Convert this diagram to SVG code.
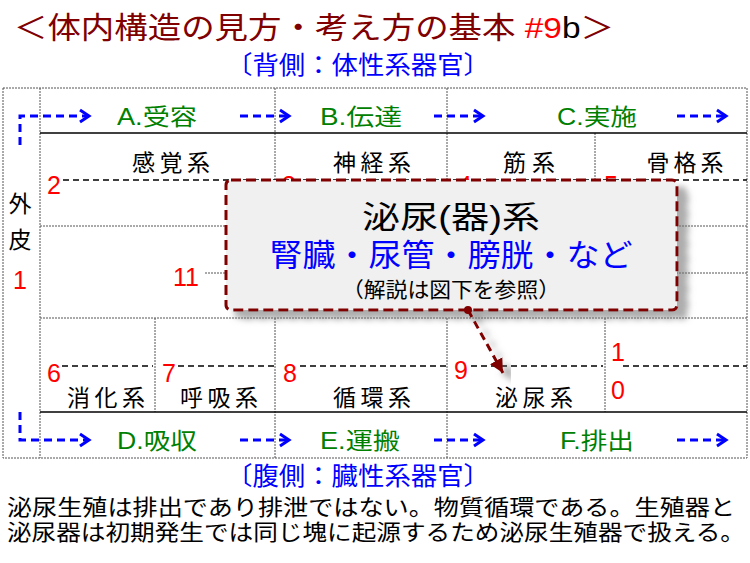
<svg xmlns="http://www.w3.org/2000/svg" width="750" height="563" viewBox="0 0 750 563">
<style>
text{font-family:"Liberation Sans","Noto Sans CJK JP",sans-serif;dominant-baseline:central}
.grid{stroke:#555;stroke-width:1;stroke-dasharray:2,1;fill:none}
.solid{stroke:#000;stroke-width:1.5;fill:none}
.dash{stroke:#000;stroke-width:1.3;stroke-dasharray:6,4;fill:none}
.flow{stroke:#0000ff;stroke-width:3;stroke-dasharray:8,5;fill:none}
.lab{font-size:23px;fill:#008000;text-anchor:middle}
.sys{font-size:23px;fill:#000;text-anchor:middle}
.num{font-size:25px;fill:#ff0000}
.side{font-size:25px;fill:#0000ff;text-anchor:middle}
.body{font-size:22px;fill:#000}
</style>
<defs>
<marker id="chev" markerUnits="userSpaceOnUse" markerWidth="14" markerHeight="16" refX="11" refY="8" orient="auto">
<polyline points="2,2 11,8 2,14" fill="none" stroke="#0000ff" stroke-width="3"/>
</marker>
<marker id="tri" markerUnits="userSpaceOnUse" markerWidth="16" markerHeight="16" refX="14" refY="8" orient="auto">
<path d="M0,1 L14,8 L0,15 Z" fill="#800000"/>
</marker>
<filter id="shadow" x="-10%" y="-10%" width="130%" height="140%">
<feDropShadow dx="10" dy="8" stdDeviation="3" flood-color="#777" flood-opacity="0.6"/>
</filter>
<clipPath id="peek"><rect x="0" y="0" width="750" height="180"/></clipPath>
</defs>
<rect width="750" height="563" fill="#fff"/>

<g id="title">
<text x="314" y="27" font-size="30" fill="#800000" text-anchor="middle" textLength="600" lengthAdjust="spacingAndGlyphs">＜体内構造の見方・考え方の基本 <tspan fill="#ff0000">#9</tspan><tspan fill="#000">b</tspan>＞</text>
</g>
<g id="dorsal">
<text class="side" x="358" y="65" textLength="264" lengthAdjust="spacingAndGlyphs">〔背側：体性系器官〕</text>
</g>

<g id="grid">
<rect class="grid" x="3" y="88" width="744" height="370"/>
<line class="grid" x1="40" y1="88" x2="40" y2="458"/>
<line class="grid" x1="275" y1="88" x2="275" y2="180"/>
<line class="grid" x1="447" y1="88" x2="447" y2="180"/>
<line class="grid" x1="595" y1="133" x2="595" y2="180"/>
<line class="grid" x1="275" y1="318" x2="275" y2="458"/>
<line class="grid" x1="447" y1="318" x2="447" y2="458"/>
<line class="grid" x1="155" y1="318" x2="155" y2="412"/>
<line class="grid" x1="605" y1="318" x2="605" y2="412"/>
<line class="grid" x1="40" y1="226" x2="747" y2="226"/>
<line class="grid" x1="205" y1="273" x2="747" y2="273"/>
<line class="grid" x1="40" y1="318" x2="747" y2="318"/>
<line class="solid" x1="40" y1="133" x2="747" y2="133"/>
<line class="solid" x1="40" y1="412" x2="747" y2="412"/>
<line class="dash" x1="63" y1="180" x2="747" y2="180"/>
<line class="dash" x1="62" y1="366" x2="153" y2="366"/>
<line class="dash" x1="178" y1="366" x2="274" y2="366"/>
<line class="dash" x1="300" y1="366" x2="450" y2="366"/>
<line class="dash" x1="471" y1="366" x2="603" y2="366"/>
<line class="dash" x1="623" y1="366" x2="747" y2="366"/>
</g>

<g id="skin">
<text class="sys" x="20" y="204">外</text>
<text class="sys" x="20" y="240">皮</text>
<text class="num" x="20" y="280" text-anchor="middle">1</text>
</g>

<g id="numbers">
<text class="num" x="47" y="185">2</text>
<g clip-path="url(#peek)">
<text class="num" x="282" y="185">3</text>
<text class="num" x="458" y="185">4</text>
<text class="num" x="604" y="185">5</text>
</g>
<text class="num" x="173" y="277">11</text>
<text class="num" x="47" y="373">6</text>
<text class="num" x="162" y="373">7</text>
<text class="num" x="283" y="373">8</text>
<text class="num" x="454" y="370">9</text>
<text class="num" x="611" y="352">1</text>
<text class="num" x="611" y="390">0</text>
</g>

<g id="dorsal-systems">
<text class="sys" x="171" y="163" textLength="78" lengthAdjust="spacing">感覚系</text>
<text class="sys" x="372" y="163" textLength="78" lengthAdjust="spacing">神経系</text>
<text class="sys" x="529" y="163" textLength="52" lengthAdjust="spacing">筋系</text>
<text class="sys" x="685" y="163" textLength="77" lengthAdjust="spacing">骨格系</text>
</g>
<g id="ventral-systems">
<text class="sys" x="106" y="398" textLength="78" lengthAdjust="spacing">消化系</text>
<text class="sys" x="219" y="398" textLength="78" lengthAdjust="spacing">呼吸系</text>
<text class="sys" x="372" y="398" textLength="78" lengthAdjust="spacing">循環系</text>
<text class="sys" x="534" y="398" textLength="78" lengthAdjust="spacing">泌尿系</text>
</g>

<g id="stages">
<text class="lab" x="157" y="117" textLength="80" lengthAdjust="spacingAndGlyphs">A.受容</text>
<text class="lab" x="361" y="117" textLength="82" lengthAdjust="spacingAndGlyphs">B.伝達</text>
<text class="lab" x="597" y="117" textLength="80" lengthAdjust="spacingAndGlyphs">C.実施</text>
<text class="lab" x="157" y="441" textLength="80" lengthAdjust="spacingAndGlyphs">D.吸収</text>
<text class="lab" x="360" y="441" textLength="80" lengthAdjust="spacingAndGlyphs">E.運搬</text>
<text class="lab" x="597" y="441" textLength="74" lengthAdjust="spacingAndGlyphs">F.排出</text>
</g>

<g id="connectors">
<path class="flow" d="M20,145 V116 H89" marker-end="url(#chev)"/>
<path class="flow" d="M240,116 H289" marker-end="url(#chev)"/>
<path class="flow" d="M434,116 H483" marker-end="url(#chev)"/>
<path class="flow" d="M677,116 H726" marker-end="url(#chev)"/>
<path class="flow" d="M20,412 V440 H89" marker-end="url(#chev)"/>
<path class="flow" d="M240,440 H289" marker-end="url(#chev)"/>
<path class="flow" d="M434,440 H483" marker-end="url(#chev)"/>
<path class="flow" d="M677,440 H726" marker-end="url(#chev)"/>
</g>

<g id="callout">
<rect x="226" y="180" width="451" height="130" rx="5" fill="#f0f0f0" stroke="#800000" stroke-width="3" stroke-dasharray="10,5" filter="url(#shadow)"/>
<text x="451" y="217" font-size="31" fill="#000" text-anchor="middle" textLength="178" lengthAdjust="spacingAndGlyphs">泌尿(器)系</text>
<text x="451" y="255" font-size="31" fill="#0000ff" text-anchor="middle" textLength="363" lengthAdjust="spacingAndGlyphs">腎臓・尿管・膀胱・など</text>
<text x="451" y="289" font-size="21" fill="#000" text-anchor="middle" textLength="218" lengthAdjust="spacingAndGlyphs">（解説は図下を参照）</text>
</g>

<g id="callout-pointer" filter="url(#shadow)">
<circle cx="468" cy="310" r="4" fill="#800000"/>
<line x1="468" y1="310" x2="503" y2="373" stroke="#800000" stroke-width="3" stroke-dasharray="8,5" marker-end="url(#tri)"/>
</g>

<g id="ventral">
<text class="side" x="358" y="476" textLength="264" lengthAdjust="spacingAndGlyphs">〔腹側：臓性系器官〕</text>
</g>
<g id="note">
<text class="body" x="7" y="507" textLength="728" lengthAdjust="spacingAndGlyphs">泌尿生殖は排出であり排泄ではない。物質循環である。生殖器と</text>
<text class="body" x="7" y="532" textLength="738" lengthAdjust="spacingAndGlyphs">泌尿器は初期発生では同じ塊に起源するため泌尿生殖器で扱える。</text>
</g>
</svg>
